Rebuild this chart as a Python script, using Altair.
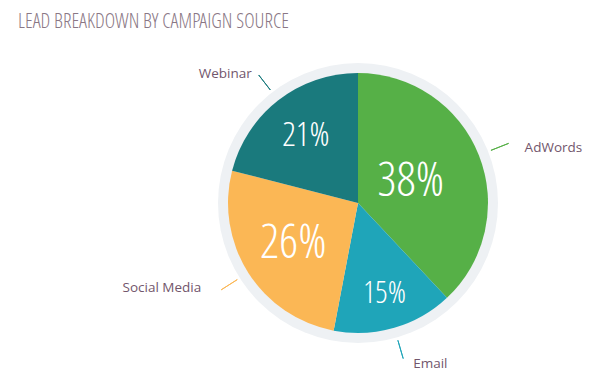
import altair as alt
import pandas as pd

# ---- data ----
sources = ["AdWords", "Email", "Social Media", "Webinar"]
shares = [38, 15, 26, 21]
colors = ["#56B047", "#1FA5B9", "#FBB755", "#1A7A7D"]
title_text = "LEAD BREAKDOWN BY CAMPAIGN SOURCE"

df = pd.DataFrame({"source": sources, "share": shares, "idx": list(range(len(sources)))})
df["label"] = df["share"].astype(str) + "%"
df["end"] = df["share"].cumsum()
df["mid"] = df["end"] - df["share"] / 2

NARROW = "'Open Sans Condensed Light', 'Open Sans', sans-serif"
SANS = "'Open Sans', sans-serif"
LABEL_COLOR = "#72566C"
CX, CY = 350, 155

theta_scale = alt.Scale(domain=[0, 100])
color_scale = alt.Scale(domain=sources, range=colors)
pos = dict(x=alt.value(CX), y=alt.value(CY))

base = alt.Chart(df)

ring = base.transform_aggregate(total="sum(share)").mark_arc(
    radius=140, color="#EEF1F4"
).encode(theta=alt.Theta("total:Q", scale=theta_scale), **pos)

pie = base.mark_arc(radius=130).encode(
    theta=alt.Theta("share:Q", stack=True, scale=theta_scale),
    color=alt.Color("source:N", scale=color_scale, legend=None),
    order=alt.Order("idx:Q"),
    **pos,
)

pct = base.mark_text(font=NARROW, color="white", fontWeight=300).encode(
    theta=alt.Theta("share:Q", stack=True, scale=theta_scale),
    radius=alt.Radius("share:Q", scale=alt.Scale(type="threshold", domain=[18, 24], range=[90, 80, 70])),
    order=alt.Order("idx:Q"),
    text="label:N",
    size=alt.Size("share:Q", scale=alt.Scale(type="threshold", domain=[18, 24], range=[31, 34, 48]), legend=None),
    **pos,
)

lines = base.mark_arc(radius=162, radius2=143, filled=False, strokeWidth=1).encode(
    theta=alt.Theta("mid:Q", scale=theta_scale, stack=None),
    theta2=alt.Theta2("mid:Q"),
    color=alt.Color("source:N", scale=color_scale, legend=None),
    **pos,
)


def label_layer(name, align, baseline, dx, dy):
    return base.transform_filter(alt.datum.source == name).mark_text(
        radius=162, font=SANS, fontSize=13.5, color=LABEL_COLOR,
        align=align, baseline=baseline, dx=dx, dy=dy,
    ).encode(
        theta=alt.Theta("mid:Q", scale=theta_scale, stack=None),
        text="source:N",
        **pos,
    )


labels = [
    label_layer("AdWords", "left", "middle", 16, 5),
    label_layer("Email", "left", "top", 10, -2),
    label_layer("Social Media", "right", "middle", -20, -2),
    label_layer("Webinar", "right", "middle", -7, -1),
]

chart = alt.layer(ring, pie, lines, pct, *labels).properties(
    width=582,
    height=327,
    autosize=alt.AutoSizeParams(type="none"),
    padding={"left": 0, "top": 40, "right": 0, "bottom": 0},
    title=alt.TitleParams(
        text=title_text, anchor="start", frame="group", dx=10, offset=0,
        font=NARROW, fontSize=20, fontWeight=300, color="#8A7785",
        baseline="alphabetic",
    ),
).configure(background="white").configure_view(stroke=None)

chart.save("out.html", embed_options={"renderer": "svg", "actions": False})
